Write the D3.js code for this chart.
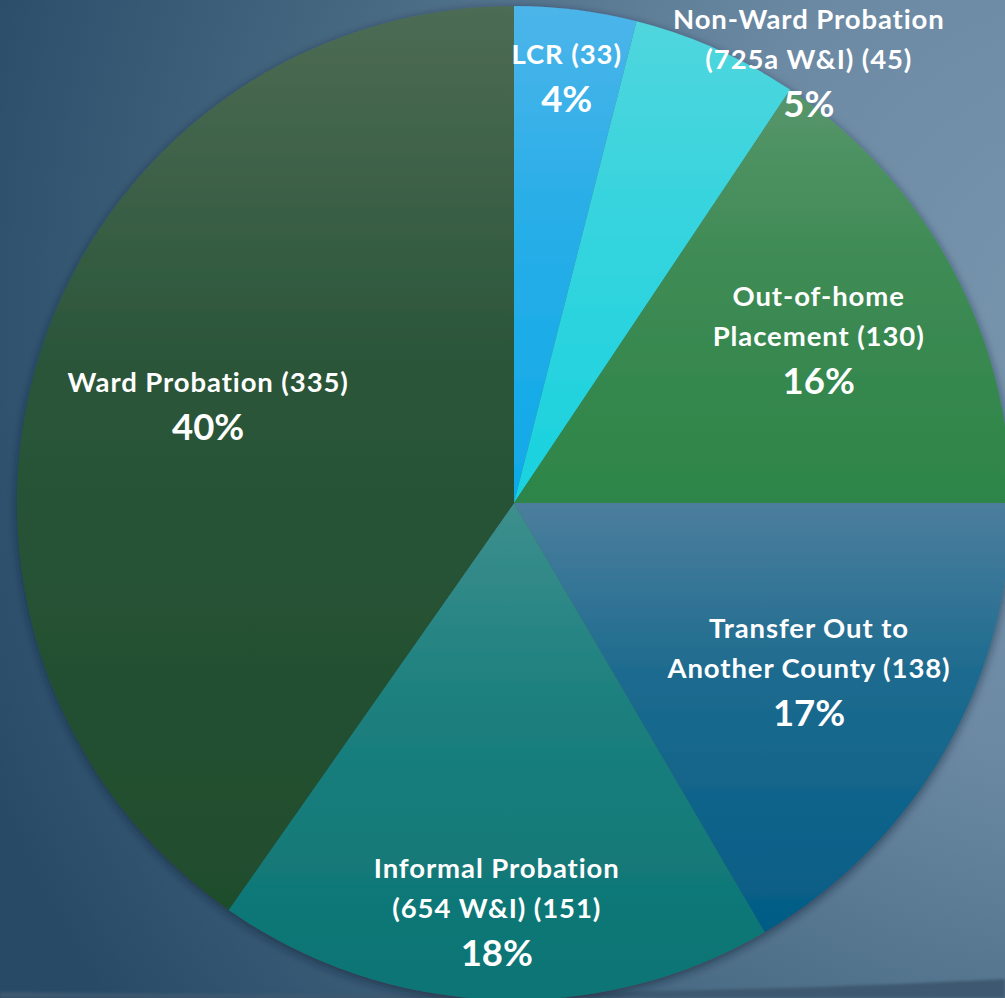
<!DOCTYPE html>
<html>
<head>
<meta charset="utf-8">
<script src="https://cdn.jsdelivr.net/npm/d3@7"></script>
<style>
  html, body { margin: 0; padding: 0; overflow: hidden; background: #2f5470; }
  svg { display: block; }
  text { font-variant-ligatures: none; }
</style>
</head>
<body>
<svg id="chart" width="1005" height="998"></svg>
<script>
// slice data, clockwise from 12 o'clock
const categories = ["LCR", "Non-Ward Probation", "Out-of-home Placement", "Transfer Out to Another County", "Informal Probation", "Ward Probation"];
const counts = [33, 45, 130, 138, 151, 335];
// label lines as shown on the chart
const labelLines = [
    ["LCR (33)"],
    ["Non-Ward Probation", "(725a W&I) (45)"],
    ["Out-of-home", "Placement (130)"],
    ["Transfer Out to", "Another County (138)"],
    ["Informal Probation", "(654 W&I) (151)"],
    ["Ward Probation (335)"]
];
// gradient colours per slice [top, middle, bottom]
const sliceColors = [
    ["#4cb5ea", "#2aaee8", "#0eaae8"],
    ["#50d6dd", "#36d4de", "#18d2de"],
    ["#57966b", "#3f8b55", "#2d8548"],
    ["#4c7e9d", "#1d6b8f", "#035c85"],
    ["#3d8f8d", "#1c807e", "#0a7474"],
    ["#4d6c54", "#2a5539", "#1f4d2c"]
];
// label placement: [angle offset (deg), radius fraction]
const labelPlace = [[-0.3, 0.89], [10.2, 1.055], [0.8, 0.69], [0.8, 0.69], [0, 0.835], [2.5, 0.655]];

const width = 1005, height = 998;
const cx = 514, cy = 503, radius = 497;

const svg = d3.select("#chart");
const defs = svg.append("defs");

// background
const bg = defs.append("radialGradient").attr("id", "bg")
    .attr("gradientUnits", "userSpaceOnUse")
    .attr("cx", 1120).attr("cy", 330).attr("r", 1220);
bg.append("stop").attr("offset", "0%").attr("stop-color", "#7896ae");
bg.append("stop").attr("offset", "35%").attr("stop-color", "#6c8aa4");
bg.append("stop").attr("offset", "70%").attr("stop-color", "#44667f");
bg.append("stop").attr("offset", "100%").attr("stop-color", "#284a67");
svg.append("rect").attr("width", width).attr("height", height).attr("fill", "url(#bg)");

// dark band at the bottom edge
const band = d3.path();
band.moveTo(0, height);
band.lineTo(0, 992);
band.quadraticCurveTo(600, 1000, width, 979);
band.lineTo(width, height);
band.closePath();
defs.append("filter").attr("id", "blur2").append("feGaussianBlur").attr("stdDeviation", 1.5);
svg.append("path").attr("d", band.toString()).attr("fill", "#3d5870").attr("filter", "url(#blur2)");

// pie shadow
const shadow = defs.append("filter").attr("id", "shadow")
    .attr("x", "-10%").attr("y", "-10%").attr("width", "120%").attr("height", "120%");
shadow.append("feDropShadow").attr("dx", 0).attr("dy", 3).attr("stdDeviation", 5)
    .attr("flood-color", "#0d2233").attr("flood-opacity", 0.6);

sliceColors.forEach((c, i) => {
    const g = defs.append("linearGradient").attr("id", "slice" + i)
        .attr("x1", 0).attr("y1", 0).attr("x2", 0).attr("y2", 1);
    g.append("stop").attr("offset", "0%").attr("stop-color", c[0]);
    g.append("stop").attr("offset", "40%").attr("stop-color", c[1]);
    g.append("stop").attr("offset", "100%").attr("stop-color", c[2]);
});

const total = d3.sum(counts);
const pie = d3.pie().sort(null).value(d => d)(counts);
const arc = d3.arc().innerRadius(0).outerRadius(radius);

const g = svg.append("g").attr("transform", `translate(${cx},${cy})`);

g.append("g").attr("filter", "url(#shadow)")
    .selectAll(".slice").data(pie)
    .join("path").attr("class", "slice")
    .attr("d", arc)
    .attr("fill", (d, i) => `url(#slice${i})`);

// labels
const font = "Lato, 'Open Sans', sans-serif";
const lineH = 40, pctGap = 48;
const labels = g.selectAll(".label").data(pie)
    .join("g").attr("class", "label")
    .attr("transform", (d, i) => {
        const a = (d.startAngle + d.endAngle) / 2 + labelPlace[i][0] * Math.PI / 180;
        const r = radius * labelPlace[i][1];
        return `translate(${Math.sin(a) * r},${-Math.cos(a) * r})`;
    });

labels.each(function(d, i) {
    const el = d3.select(this);
    const lines = labelLines[i];
    lines.forEach((t, j) => {
        el.append("text")
            .attr("text-anchor", "middle")
            .attr("y", (j - (lines.length - 1)) * lineH)
            .attr("fill", "#fff")
            .attr("font-family", font)
            .attr("font-weight", 700)
            .attr("font-size", 27.5)
            .attr("letter-spacing", 0.9)
            .text(t);
    });
    el.append("text")
        .attr("text-anchor", "middle")
        .attr("y", pctGap)
        .attr("fill", "#fff")
        .attr("font-family", font)
        .attr("font-weight", 700)
        .attr("font-size", 36.5)
        .text(d3.format(".0%")(d.data / total));
});
</script>
</body>
</html>
